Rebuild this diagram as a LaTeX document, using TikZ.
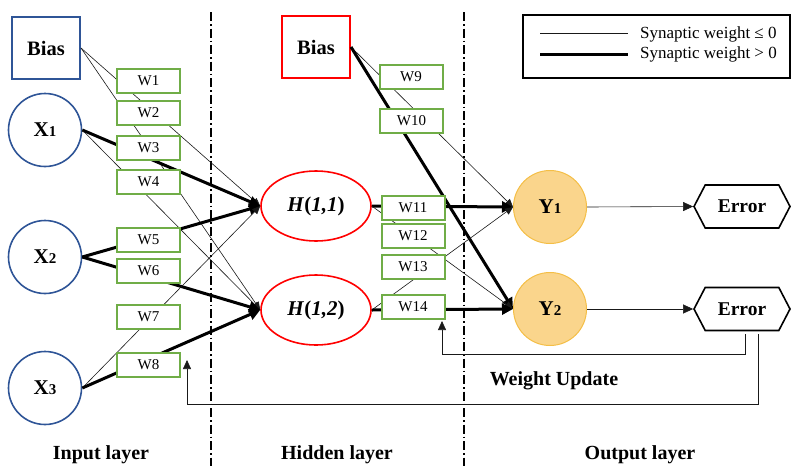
\documentclass[tikz,border=0pt]{standalone}
\usepackage{fontspec}
\setmainfont{Liberation Serif}
\usetikzlibrary{arrows.meta,shapes.geometric,shapes.symbols,calc}
\definecolor{nnblue}{RGB}{47,85,151}
\definecolor{wgreen}{RGB}{112,173,71}
\definecolor{yfill}{RGB}{250,213,140}
\definecolor{yborder}{RGB}{244,190,70}
\begin{document}
\begin{tikzpicture}[x=1pt,y=-1pt,
  biasbox/.style={draw, line width=2pt, minimum width=68pt, minimum height=62pt, inner sep=0pt, font=\fontsize{20.5}{24}\selectfont\bfseries},
  incirc/.style={circle, draw=nnblue, line width=1.6pt, minimum size=73pt, inner sep=0pt, font=\fontsize{21}{24}\selectfont\bfseries},
  hid/.style={ellipse, draw=red, line width=1.6pt, minimum width=110pt, minimum height=70pt, inner sep=0pt, font=\fontsize{21}{24}\selectfont\bfseries},
  outcirc/.style={circle, fill=yfill, draw=yborder, line width=1pt, minimum size=73pt, inner sep=0pt, font=\fontsize{21}{24}\selectfont\bfseries},
  errnode/.style={signal, signal to=west and east, signal pointer angle=125, draw, line width=1.6pt, minimum width=96pt, minimum height=43pt, inner sep=0pt, font=\fontsize{19.5}{22}\selectfont\bfseries},
  wbox/.style={draw=wgreen, line width=2pt, fill=white, minimum width=63pt, minimum height=24pt, inner sep=0pt, font=\fontsize{15}{16}\selectfont},
  wthin/.style={line width=0.6pt, black!90},
  wthick/.style={line width=3pt, black},
  thinarr/.style={wthin, -{Triangle[length=8pt,width=7pt]}},
  thickarr/.style={wthick, -{Triangle[length=11pt,width=11pt]}},
  layerline/.style={line width=1.8pt, dash pattern=on 9pt off 3pt on 1.5pt off 3pt},
  lbl/.style={font=\fontsize{20}{24}\selectfont\bfseries},
  legtxt/.style={anchor=west, inner sep=0pt, font=\fontsize{17}{19}\selectfont}
]
\useasboundingbox (0,0) rectangle (791,466);

% layer separators
\coordinate (s1t) at (211,12); \coordinate (s1b) at (211,466);
\coordinate (s2t) at (464,12); \coordinate (s2b) at (464,466);
\draw[layerline] (s1t) -- (s1b);
\draw[layerline] (s2t) -- (s2b);

% main nodes
\node[biasbox, draw=nnblue] (B1) at (46,48) {Bias};
\node[incirc] (X1) at (45,130) {X{\fontsize{15}{15}\selectfont 1}};
\node[incirc] (X2) at (45,257) {X{\fontsize{15}{15}\selectfont 2}};
\node[incirc] (X3) at (45,388) {X{\fontsize{15}{15}\selectfont 3}};
\node[hid] (H11) at (316,206) {\textit{H}(\textit{1,1})};
\node[hid] (H12) at (316,310) {\textit{H}(\textit{1,2})};
\node[biasbox, draw=red] (B2) at (316,47) {Bias};
\node[outcirc] (Y1) at (550,207) {Y{\fontsize{15}{15}\selectfont 1}};
\node[outcirc] (Y2) at (550,309) {Y{\fontsize{15}{15}\selectfont 2}};
\node[errnode] (E1) at (742,206.5) {Error};
\node[errnode] (E2) at (742,309) {Error};

% input -> hidden
\draw[thinarr] (B1.east) -- (H11.west);
\draw[thinarr] (B1.east) -- (H12.west);
\draw[thickarr] (X1.east) -- (H11.west);
\draw[thinarr] (X1.east) -- (H12.west);
\draw[thickarr] (X2.east) -- (H11.west);
\draw[thickarr] (X2.east) -- (H12.west);
\draw[thinarr] (X3.east) -- (H11.west);
\draw[thickarr] (X3.east) -- (H12.west);

% hidden -> output
\draw[thinarr] (B2.east) -- (Y1.west);
\draw[thickarr] (B2.east) -- (Y2.west);
\draw[thickarr] (H11.east) -- (Y1.west);
\draw[thinarr] (H11.east) -- (Y2.west);
\draw[thinarr] (H12.east) -- (Y1.west);
\draw[thickarr] (H12.east) -- (Y2.west);

% output -> error
\draw[wthin, -{Triangle[length=10pt,width=9pt]}] (Y1.east) -- (E1.west);
\draw[wthin, -{Triangle[length=10pt,width=9pt]}] (Y2.east) -- (E2.west);

% weight boxes
\node[wbox] (W1) at (148.5,81) {W1};
\node[wbox] (W2) at (148.5,112.5) {W2};
\node[wbox] (W3) at (148.5,148) {W3};
\node[wbox] (W4) at (148.5,182) {W4};
\node[wbox] (W5) at (148.5,239.5) {W5};
\node[wbox] (W6) at (148.5,270.5) {W6};
\node[wbox] (W7) at (148.5,317) {W7};
\node[wbox] (W8) at (148.5,364.5) {W8};
\node[wbox] (W9) at (411,77) {W9};
\node[wbox] (W10) at (411.5,121) {W10};
\node[wbox] (W11) at (413,207.5) {W11};
\node[wbox] (W12) at (413,235.5) {W12};
\node[wbox] (W13) at (413,266.5) {W13};
\node[wbox] (W14) at (413,306.5) {W14};

% feedback
\coordinate (f1a) at ($(E2.south)+(3,3)$);
\coordinate (f2a) at ($(E2.south)+(16,3)$);
\coordinate (t1) at (442,321);
\coordinate (t2) at (187,360);
\draw[wthin, -{Triangle[length=9pt,width=8pt]}] (f1a) -- ++(0,20) -| (t1);
\draw[wthin, -{Triangle[length=9pt,width=8pt]}] (f2a) -- ++(0,70) -| (t2);
\node[lbl] (wu) at (554,381) {Weight Update};

% legend
\draw[line width=2pt] (523,15) rectangle (789.5,78);
\coordinate (l1a) at (540,33); \coordinate (l1b) at (628,33);
\coordinate (l2a) at (540,54); \coordinate (l2b) at (628,54);
\draw[wthin] (l1a) -- (l1b);
\draw[wthick] (l2a) -- (l2b);
\node[legtxt] (lt1) at (640,34) {Synaptic weight ≤ 0};
\node[legtxt] (lt2) at (640,54) {Synaptic weight > 0};

% layer labels
\node[lbl] (li) at (101,455) {Input layer};
\node[lbl] (lh) at (337,455) {Hidden layer};
\node[lbl] (lo) at (640,455) {Output layer};
\end{tikzpicture}
\end{document}
